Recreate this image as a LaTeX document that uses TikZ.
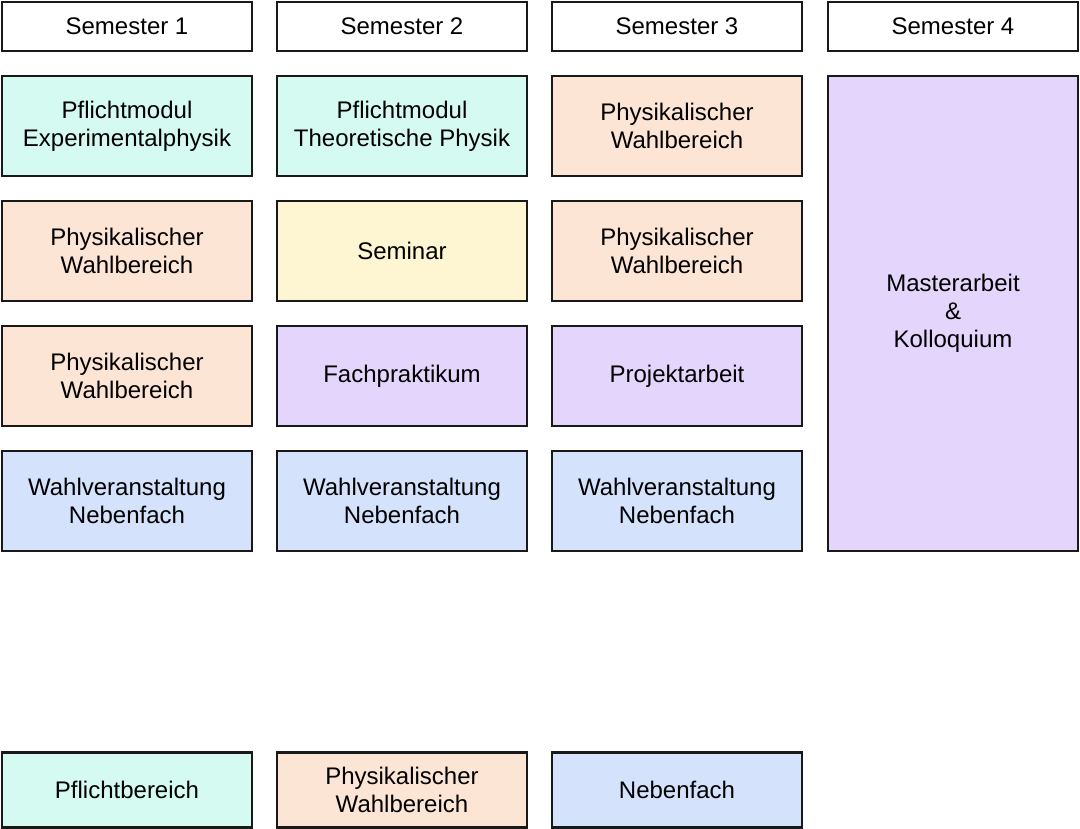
\documentclass[tikz,border=0pt]{standalone}
\usepackage{fontspec}
\setmainfont{Liberation Sans}
\definecolor{cpflicht}{HTML}{D5FAF1}
\definecolor{cwahl}{HTML}{FDE5D5}
\definecolor{csem}{HTML}{FEF5D3}
\definecolor{cprak}{HTML}{E4D5FC}
\definecolor{cneben}{HTML}{D4E2FC}
\begin{document}
\begin{tikzpicture}[x=1pt,y=-1pt,
  box/.style={draw=black!90,line width=2.8pt,minimum width=250pt,minimum height=100pt,align=center,font=\fontsize{24}{28}\selectfont,inner sep=0pt},
  head/.style={box,minimum height=49pt,fill=white},
  leg/.style={box,minimum height=75pt},
  pf/.style={fill=cpflicht},
  wb/.style={fill=cwahl},
  se/.style={fill=csem},
  pr/.style={fill=cprak},
  nf/.style={fill=cneben}]
\useasboundingbox (0,0) rectangle (1080,829);
\node[head] (h1) at (127,26.5) {Semester 1};
\node[head] (h2) at (402,26.5) {Semester 2};
\node[head] (h3) at (677,26.5) {Semester 3};
\node[head] (h4) at (953,26.5) {Semester 4};
\node[box,pf] (a1) at (127,126) {Pflichtmodul\\Experimentalphysik};
\node[box,wb] (a2) at (127,251) {Physikalischer\\Wahlbereich};
\node[box,wb] (a3) at (127,376) {Physikalischer\\Wahlbereich};
\node[box,nf] (a4) at (127,501) {Wahlveranstaltung\\Nebenfach};
\node[box,pf] (b1) at (402,126) {Pflichtmodul\\Theoretische Physik};
\node[box,se] (b2) at (402,251) {Seminar};
\node[box,pr] (b3) at (402,376) {Fachpraktikum};
\node[box,nf] (b4) at (402,501) {Wahlveranstaltung\\Nebenfach};
\node[box,wb] (c1) at (677,126) {Physikalischer\\Wahlbereich};
\node[box,wb] (c2) at (677,251) {Physikalischer\\Wahlbereich};
\node[box,pr] (c3) at (677,376) {Projektarbeit};
\node[box,nf] (c4) at (677,501) {Wahlveranstaltung\\Nebenfach};
\node[box,pr,minimum height=475pt] (d1) at (953,313.5) {Masterarbeit\\\&\\Kolloquium};
\node[leg,pf] (l1) at (127,790) {Pflichtbereich};
\node[leg,wb] (l2) at (402,790) {Physikalischer\\Wahlbereich};
\node[leg,nf] (l3) at (677,790) {Nebenfach};
\end{tikzpicture}
\end{document}
